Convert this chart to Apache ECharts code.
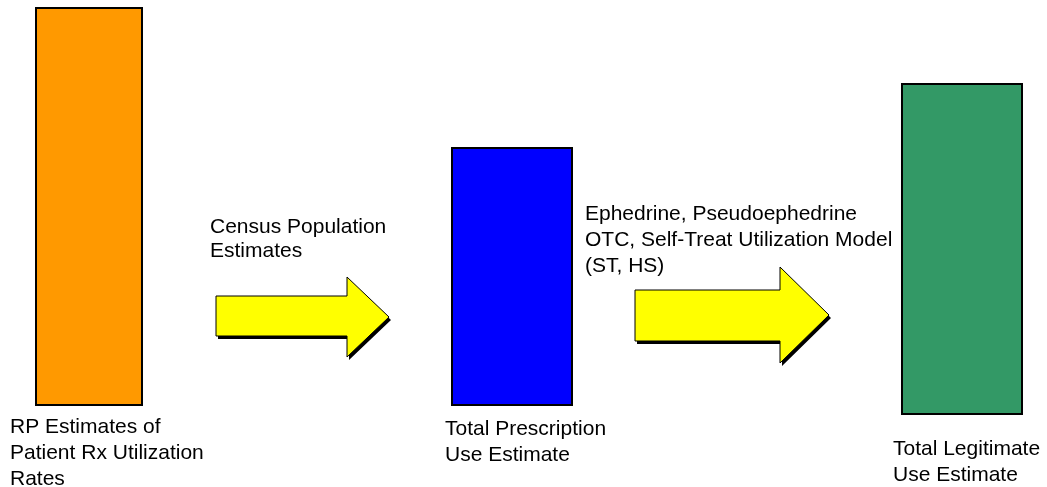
<!DOCTYPE html>
<html>
<head>
<meta charset="utf-8">
<script src="https://cdn.jsdelivr.net/npm/echarts@6/dist/echarts.min.js"></script>
<style>
  html, body { margin: 0; padding: 0; background: #fff; }
  #flow { width: 1047px; height: 487px; }
</style>
</head>
<body>
<div id="flow"></div>
<script>
// diagram units: x 0..1047 left to right, y 0..487 top to bottom
var boxNames = ['RP Estimates', 'Total Prescription', 'Total Legitimate'];
var boxLeft = [36, 452, 902];
var boxRight = [142, 572, 1022];
var boxTop = [8, 148, 84];
var boxBottom = [405, 405, 414];
var boxColors = ['#ff9900', '#0000ff', '#339966'];

// arrows: shaft start, head base, tip, shaft top/bottom, head top/bottom
var arrowNames = ['Census', 'Self-Treat'];
var arrowStart = [216, 635];
var arrowHeadBase = [347, 780];
var arrowTip = [389, 829];
var arrowShaftTop = [296, 290];
var arrowShaftBottom = [336, 341];
var arrowHeadTop = [277, 267];
var arrowHeadBottom = [357, 363];

var labelLines = [
    'RP Estimates of', 'Patient Rx Utilization', 'Rates',
    'Census Population', 'Estimates',
    'Ephedrine, Pseudoephedrine', 'OTC, Self-Treat Utilization Model', '(ST, HS)',
    'Total Prescription', 'Use Estimate',
    'Total Legitimate', 'Use Estimate'
];
var labelX = [10, 10, 10, 210, 210, 585, 585, 585, 445, 445, 893, 893];
var labelY = [438, 464, 490, 238, 262, 225, 251, 277, 440, 466, 460, 486];

function boxItem(params, api) {
    var p0 = api.coord([api.value(0), api.value(2)]);
    var p1 = api.coord([api.value(1), api.value(3)]);
    return {
        type: 'rect',
        shape: { x: p0[0], y: p0[1], width: p1[0] - p0[0], height: p1[1] - p0[1] },
        style: { fill: boxColors[params.dataIndex], stroke: '#000', lineWidth: 2 }
    };
}

function arrowItem(params, api) {
    var pts = [
        [api.value(0), api.value(3)],
        [api.value(1), api.value(3)],
        [api.value(1), api.value(5)],
        [api.value(2), (api.value(5) + api.value(6)) / 2],
        [api.value(1), api.value(6)],
        [api.value(1), api.value(4)],
        [api.value(0), api.value(4)]
    ].map(function (p) { return api.coord(p); });
    var shadow = pts.map(function (p) { return [p[0] + 2, p[1] + 3]; });
    return {
        type: 'group',
        children: [
            { type: 'polygon', shape: { points: shadow }, style: { fill: '#000' } },
            { type: 'polygon', shape: { points: pts }, style: { fill: '#ffff00', stroke: '#000', lineWidth: 1 } }
        ]
    };
}

function labelItem(params, api) {
    var p = api.coord([api.value(0), api.value(1)]);
    return {
        type: 'text',
        x: p[0],
        y: p[1],
        style: {
            text: labelLines[params.dataIndex],
            fill: '#000',
            font: '21px "Liberation Sans", Arial, sans-serif',
            textAlign: 'left',
            textVerticalAlign: 'bottom'
        }
    };
}

var boxData = boxNames.map(function (n, i) {
    return [boxLeft[i], boxRight[i], boxTop[i], boxBottom[i]];
});
var arrowData = arrowNames.map(function (n, i) {
    return [arrowStart[i], arrowHeadBase[i], arrowTip[i], arrowShaftTop[i],
            arrowShaftBottom[i], arrowHeadTop[i], arrowHeadBottom[i]];
});
var labelData = labelLines.map(function (t, i) { return [labelX[i], labelY[i]]; });

var flowOption = {
    backgroundColor: '#ffffff',
    animation: false,
    grid: { left: 0, right: 0, top: 0, bottom: 0 },
    xAxis: { type: 'value', min: 0, max: 1047, show: false },
    yAxis: { type: 'value', min: 0, max: 487, inverse: true, show: false },
    series: [
        { type: 'custom', renderItem: boxItem, data: boxData, silent: true },
        { type: 'custom', renderItem: arrowItem, data: arrowData, silent: true },
        { type: 'custom', renderItem: labelItem, data: labelData, silent: true, clip: false }
    ]
};

var flowChart = echarts.init(document.getElementById('flow'));
flowChart.setOption(flowOption);
</script>
</body>
</html>
